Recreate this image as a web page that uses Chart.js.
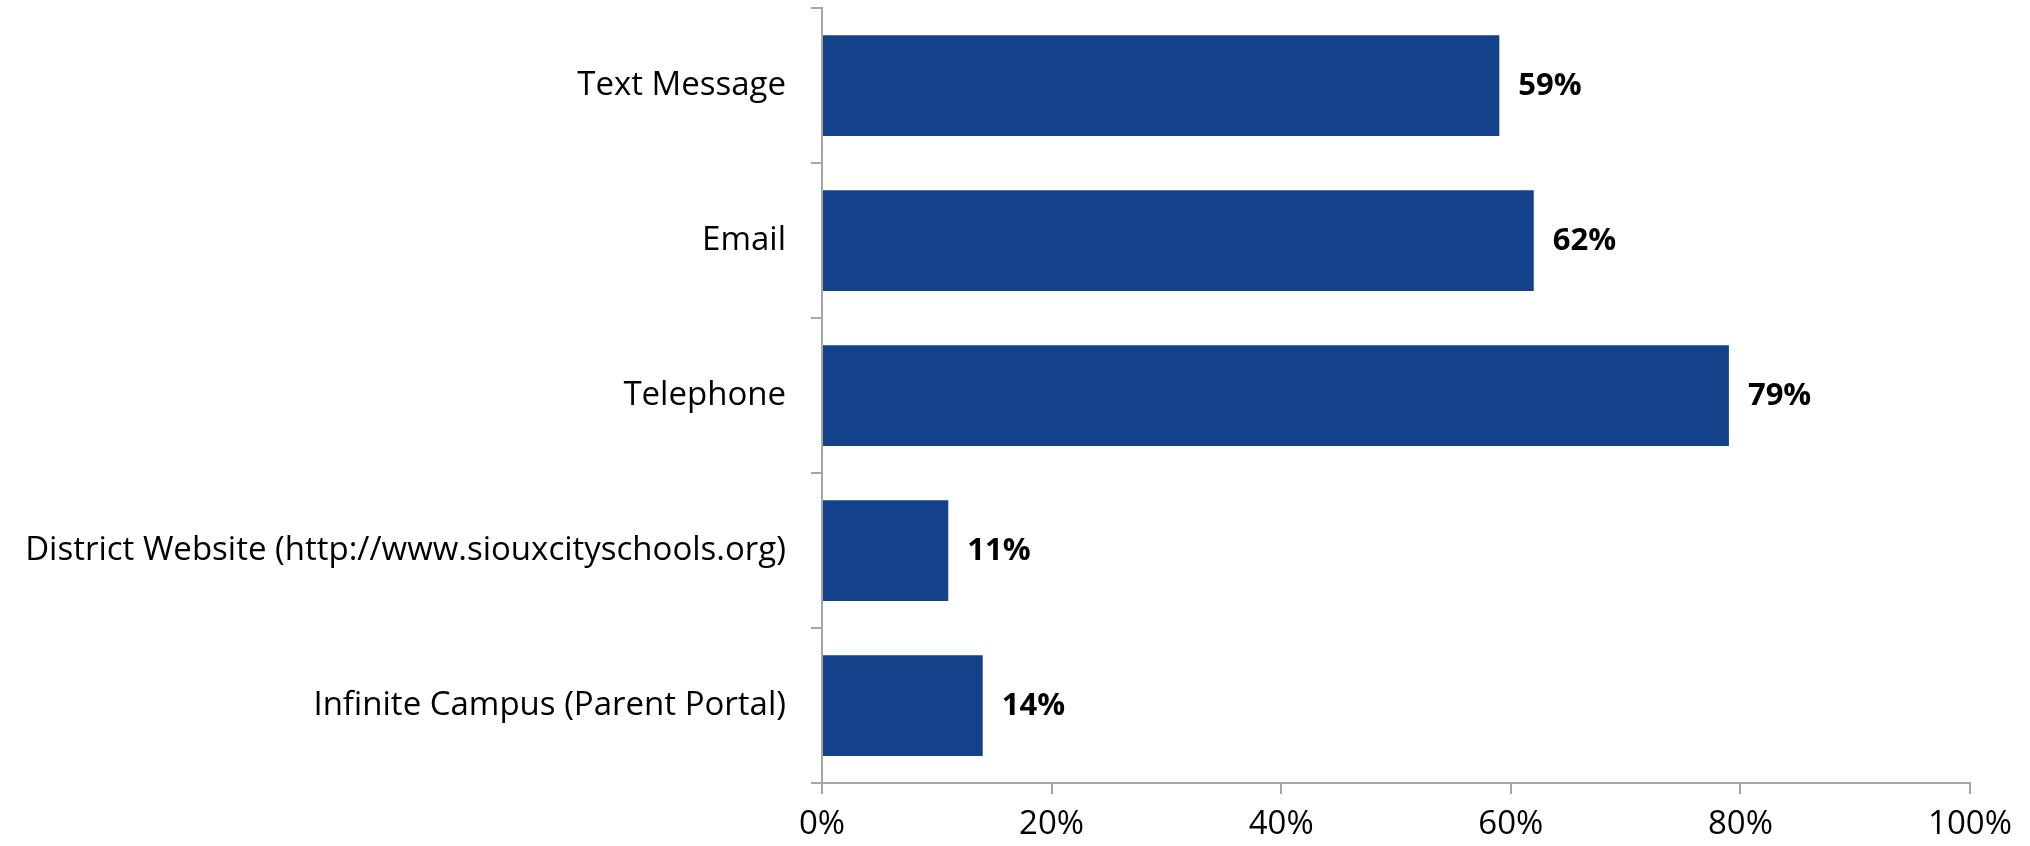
<!DOCTYPE html>
<html>
<head>
<meta charset="utf-8">
<script src="https://cdn.jsdelivr.net/npm/chart.js@4"></script>
<style>
  html, body { margin: 0; padding: 0; background: #fff; }
  #wrap { width: 2030px; height: 846px; }
</style>
</head>
<body>
<div id="wrap"><canvas id="barChart" width="2030" height="846"></canvas></div>
<script>
// Chart data
var categories = ['Text Message', 'Email', 'Telephone', 'District Website (http://www.siouxcityschools.org)', 'Infinite Campus (Parent Portal)'];
var percentValues = [59, 62, 79, 11, 14];
var xTickValues = [0, 20, 40, 60, 80, 100];

var fontFamily = '"Open Sans", Lato, sans-serif';
var axisGray = '#a6a6a6';

// Draw the "59%" style labels right of each bar
var valueLabels = {
    id: 'valueLabels',
    afterDatasetsDraw: function (chart) {
        var ctx = chart.ctx;
        var meta = chart.getDatasetMeta(0);
        ctx.save();
        ctx.font = 'bold 31px ' + fontFamily;
        ctx.fillStyle = '#000';
        ctx.textAlign = 'left';
        ctx.textBaseline = 'middle';
        meta.data.forEach(function (bar, i) {
            ctx.fillText(percentValues[i] + '%', bar.x + 19, bar.y + 1);
        });
        ctx.restore();
    }
};

var ctx = document.getElementById('barChart').getContext('2d');
var chart = new Chart(ctx, {
    type: 'bar',
    data: {
        labels: categories,
        datasets: [{
            data: percentValues,
            backgroundColor: '#13428a',
            borderWidth: 0,
            barPercentage: 0.65,
            categoryPercentage: 1.0
        }]
    },
    options: {
        indexAxis: 'y',
        responsive: false,
        animation: false,
        layout: { padding: { top: 8, right: 60, left: 0, bottom: 0 } },
        plugins: {
            legend: { display: false },
            tooltip: { enabled: false }
        },
        scales: {
            x: {
                min: 0,
                max: 100,
                afterBuildTicks: function (scale) {
                    scale.ticks = xTickValues.map(function (v) { return { value: v }; });
                },
                afterFit: function (scale) {
                    scale.height = 63;
                    scale.paddingLeft = 0;
                    scale.paddingRight = 0;
                },
                grid: {
                    drawOnChartArea: false,
                    drawTicks: true,
                    tickLength: 11,
                    color: axisGray,
                    lineWidth: 2
                },
                border: { display: true, color: axisGray, width: 2 },
                ticks: {
                    color: '#000',
                    padding: 11,
                    maxRotation: 0,
                    font: { family: fontFamily, size: 33 },
                    callback: function (v) { return v + '%'; }
                }
            },
            y: {
                afterFit: function (scale) {
                    scale.width = 822;
                    scale.paddingTop = 0;
                    scale.paddingBottom = 0;
                },
                grid: {
                    drawOnChartArea: false,
                    drawTicks: true,
                    tickLength: 11,
                    color: axisGray,
                    lineWidth: 2
                },
                border: { display: true, color: axisGray, width: 2 },
                ticks: {
                    color: '#000',
                    padding: 25,
                    font: { family: fontFamily, size: 33 }
                }
            }
        }
    },
    plugins: [valueLabels]
});
</script>
</body>
</html>
